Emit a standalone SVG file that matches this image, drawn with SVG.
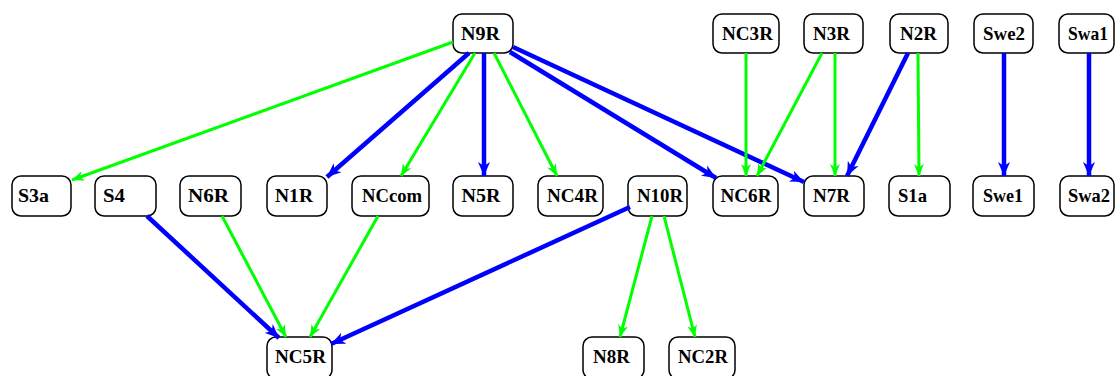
<svg xmlns="http://www.w3.org/2000/svg" width="1115" height="376" viewBox="0 0 1115 376">
  <defs>
    <style>
      .node rect { fill: #ffffff; stroke: #000000; stroke-width: 1.5; }
      .node text { font-family: "Liberation Serif", "Times New Roman", serif; font-weight: bold; font-size: 19px; text-anchor: middle; fill: #000000; }
      .e { fill: none; stroke-linecap: butt; }
      .g { stroke: #00ff00; stroke-width: 3; marker-end: url(#ag); }
      .b { stroke: #0000ff; stroke-width: 4.5; marker-end: url(#ab); }
    </style>
    <marker id="ag" markerUnits="userSpaceOnUse" markerWidth="13" markerHeight="11" refX="12" refY="5.5" orient="auto">
      <path d="M0,0.5 L12,5.5 L0,10.5 L3.5,5.5 z" fill="#00ff00"/>
    </marker>
    <marker id="ab" markerUnits="userSpaceOnUse" markerWidth="15" markerHeight="13" refX="14" refY="6.5" orient="auto">
      <path d="M0,0.5 L14,6.5 L0,12.5 L4,6.5 z" fill="#0000ff"/>
    </marker>
  </defs>
  <rect width="1115" height="376" fill="#ffffff"/>

  <!-- top row -->
  <g id="N9R" class="node"><rect x="453" y="14" width="60" height="39" rx="9"/><text x="480.5" y="40" textLength="39" lengthAdjust="spacingAndGlyphs">N9R</text></g>
  <g id="NC3R" class="node"><rect x="713" y="14" width="66" height="39" rx="9"/><text x="747.5" y="40" textLength="51" lengthAdjust="spacingAndGlyphs">NC3R</text></g>
  <g id="N3R" class="node"><rect x="804" y="14" width="59" height="39" rx="9"/><text x="831.5" y="40" textLength="37" lengthAdjust="spacingAndGlyphs">N3R</text></g>
  <g id="N2R" class="node"><rect x="890" y="14" width="58" height="39" rx="9"/><text x="918.5" y="40" textLength="37" lengthAdjust="spacingAndGlyphs">N2R</text></g>
  <g id="Swe2" class="node"><rect x="974" y="14" width="59" height="39" rx="9"/><text x="1004" y="40" textLength="42" lengthAdjust="spacingAndGlyphs">Swe2</text></g>
  <g id="Swa1" class="node"><rect x="1059" y="14" width="55" height="39" rx="9"/><text x="1088" y="40" textLength="40" lengthAdjust="spacingAndGlyphs">Swa1</text></g>

  <!-- middle row -->
  <g id="S3a" class="node"><rect x="12" y="176" width="59" height="40" rx="9"/><text x="33.5" y="202" textLength="31" lengthAdjust="spacingAndGlyphs">S3a</text></g>
  <g id="S4" class="node"><rect x="95" y="176" width="61" height="40" rx="9"/><text x="114" y="202" textLength="22" lengthAdjust="spacingAndGlyphs">S4</text></g>
  <g id="N6R" class="node"><rect x="180" y="176" width="61" height="40" rx="9"/><text x="208.5" y="202" textLength="41" lengthAdjust="spacingAndGlyphs">N6R</text></g>
  <g id="N1R" class="node"><rect x="267" y="176" width="60" height="40" rx="9"/><text x="294" y="202" textLength="38" lengthAdjust="spacingAndGlyphs">N1R</text></g>
  <g id="NCcom" class="node"><rect x="352" y="176" width="77" height="40" rx="9"/><text x="392" y="202" textLength="60" lengthAdjust="spacingAndGlyphs">NCcom</text></g>
  <g id="N5R" class="node"><rect x="453" y="176" width="60" height="40" rx="9"/><text x="481" y="202" textLength="39" lengthAdjust="spacingAndGlyphs">N5R</text></g>
  <g id="NC4R" class="node"><rect x="538" y="176" width="65" height="40" rx="9"/><text x="572.5" y="202" textLength="51" lengthAdjust="spacingAndGlyphs">NC4R</text></g>
  <g id="N10R" class="node"><rect x="628" y="176" width="59" height="40" rx="9"/><text x="660" y="202" textLength="46" lengthAdjust="spacingAndGlyphs">N10R</text></g>
  <g id="NC6R" class="node"><rect x="713" y="176" width="65" height="40" rx="9"/><text x="746" y="202" textLength="51" lengthAdjust="spacingAndGlyphs">NC6R</text></g>
  <g id="N7R" class="node"><rect x="804" y="176" width="60" height="40" rx="9"/><text x="831.5" y="202" textLength="37" lengthAdjust="spacingAndGlyphs">N7R</text></g>
  <g id="S1a" class="node"><rect x="889" y="176" width="61" height="40" rx="9"/><text x="912.5" y="202" textLength="29" lengthAdjust="spacingAndGlyphs">S1a</text></g>
  <g id="Swe1" class="node"><rect x="973" y="176" width="61" height="40" rx="9"/><text x="1003" y="202" textLength="40" lengthAdjust="spacingAndGlyphs">Swe1</text></g>
  <g id="Swa2" class="node"><rect x="1060" y="176" width="54" height="40" rx="9"/><text x="1089" y="202" textLength="42" lengthAdjust="spacingAndGlyphs">Swa2</text></g>

  <!-- bottom row -->
  <g id="NC5R" class="node"><rect x="267" y="337" width="65" height="42" rx="9"/><text x="300.5" y="363" textLength="51" lengthAdjust="spacingAndGlyphs">NC5R</text></g>
  <g id="N8R" class="node"><rect x="583" y="337" width="61" height="42" rx="9"/><text x="611.5" y="363" textLength="37" lengthAdjust="spacingAndGlyphs">N8R</text></g>
  <g id="NC2R" class="node"><rect x="669" y="337" width="66" height="42" rx="9"/><text x="703" y="363" textLength="50" lengthAdjust="spacingAndGlyphs">NC2R</text></g>

  <!-- connectors -->
  <g id="edges" class="e">
    <line class="g" x1="453" y1="42" x2="72" y2="180"/>
    <line class="b" x1="469" y1="53" x2="327" y2="177"/>
    <line class="g" x1="475" y1="53" x2="401" y2="176"/>
    <line class="b" x1="484" y1="53" x2="484" y2="176"/>
    <line class="g" x1="494" y1="53" x2="557" y2="176"/>
    <line class="b" x1="510" y1="52" x2="716" y2="178"/>
    <line class="b" x1="513" y1="47" x2="804" y2="182"/>
    <line class="g" x1="746" y1="53" x2="746" y2="176"/>
    <line class="g" x1="822" y1="53" x2="757" y2="176"/>
    <line class="g" x1="835" y1="53" x2="835" y2="176"/>
    <line class="b" x1="908" y1="53" x2="847" y2="176"/>
    <line class="g" x1="918" y1="53" x2="919" y2="176"/>
    <line class="b" x1="1004" y1="53" x2="1004" y2="176"/>
    <line class="b" x1="1089" y1="53" x2="1089" y2="176"/>
    <line class="b" x1="147" y1="216" x2="279" y2="338"/>
    <line class="g" x1="222" y1="216" x2="286" y2="337"/>
    <line class="g" x1="378" y1="216" x2="310" y2="337"/>
    <line class="b" x1="630" y1="207" x2="331" y2="344"/>
    <line class="g" x1="652" y1="216" x2="620" y2="337"/>
    <line class="g" x1="664" y1="216" x2="695" y2="337"/>
  </g>
</svg>
